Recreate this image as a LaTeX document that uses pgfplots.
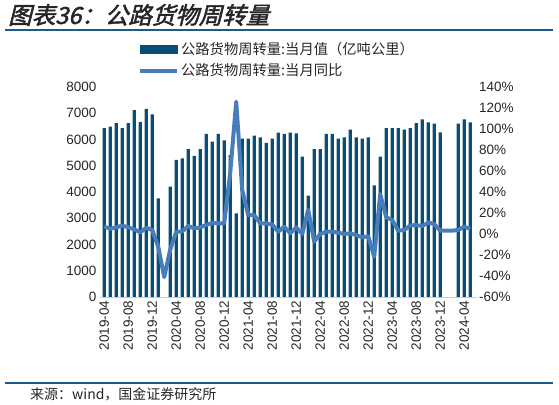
\documentclass[border=0pt]{standalone}
\usepackage{pgfplots}
\pgfplotsset{compat=1.18}
\usepackage{pgfplotstable}
\usepackage{fontspec}
\setmainfont{Liberation Sans}
\newfontfamily\cjk{Noto Sans CJK SC}
\newfontfamily\cjktitle[FakeSlant=0.25,FakeBold=2]{Noto Sans CJK SC}
\definecolor{barcol}{RGB}{10,78,120}
\definecolor{linecol}{RGB}{72,125,187}
\definecolor{rulecol}{RGB}{31,90,135}

\pgfplotstableread{
i val yoy
0 6430 7
1 6490 5
2 6620 6.3
3 6430 8
4 6620 6.3
5 7120 4.5
6 6670 1.5
7 7170 6
8 6960 3.8
9 3760 -12
10 nan -41
11 4200 -15
12 5220 2
13 5280 2.5
14 5630 7.6
15 5380 5.4
16 5630 6.3
17 6210 8.6
18 5920 10.5
19 6210 10.2
20 5970 10.2
21 5400 58
22 3190 126
23 6030 42
24 6030 18
25 6150 18
26 6080 10.2
27 5870 10
28 6030 9
29 6260 2.2
30 6210 7
31 6260 0.6
32 6235 6.3
33 5345 0
34 3860 23
35 5630 -7.3
36 5630 0
37 6210 2.2
38 6210 2.2
39 6030 1.3
40 6080 0
41 6375 0.6
42 6080 -1
43 6030 -3.2
44 6080 -2
45 4250 -21.6
46 5345 38
47 6430 16
48 6430 13.3
49 6430 3.2
50 6375 3.8
51 6430 8
52 6620 8.6
53 6770 7.6
54 6655 10.8
55 6600 9.5
56 6270 3.2
57 nan 3.2
58 nan 3.2
59 6600 3.8
60 6770 7
61 6655 4.8
}\data

\begin{document}
\begin{tikzpicture}[x=1pt,y=1pt]
\node[anchor=west, inner sep=0pt, font=\cjktitle\fontsize{23.5}{26}\selectfont, text=black!85] at (8,389) {图表36：公路货物周转量};
\draw[rulecol, line width=1.2pt] (5,374) -- (553,374);
\draw[rulecol, line width=1.2pt] (5,21) -- (553,21);
\node[anchor=west, inner sep=0pt, font=\cjk\fontsize{14}{16}\selectfont, text=black!85] at (30,10) {来源：wind，国金证券研究所};

\begin{axis}[
  at={(100pt,107pt)}, anchor=south west, scale only axis,
  width=375.6pt, height=210pt,
  xmin=-0.7, xmax=61.9, ymin=0, ymax=8000,
  axis x line*=bottom, axis y line*=left,
  x axis line style={draw=black!20, line width=0.8pt, -},
  y axis line style={draw=none},
  major tick length=0pt,
  xtick={0,4,...,60},
  xticklabels={2019-04,2019-08,2019-12,2020-04,2020-08,2020-12,2021-04,2021-08,2021-12,2022-04,2022-08,2022-12,2023-04,2023-08,2023-12,2024-04},
  x tick label style={rotate=90, anchor=east, font=\fontsize{13.5}{14}\selectfont, text=black!85},
  ytick={0,1000,...,8000},
  y tick label style={font=\fontsize{13.5}{14}\selectfont, text=black!85},
  /pgf/number format/assume math mode=true,
  /pgf/number format/1000 sep={},
  scaled y ticks=false,
  clip=false,
]
\addplot[ybar, bar width=3.3pt, fill=barcol, draw=none] table[x=i, y=val] {\data};
\end{axis}

\begin{axis}[
  at={(100pt,107pt)}, anchor=south west, scale only axis,
  width=375.6pt, height=210pt,
  xmin=-0.7, xmax=61.9, ymin=-60, ymax=140,
  axis x line=none, axis y line*=right,
  y axis line style={draw=none},
  major tick length=0pt,
  ytick={-60,-40,...,140},
  yticklabel={\pgfmathprintnumber{\tick}\%},
  y tick label style={font=\fontsize{13.5}{14}\selectfont, text=black!85},
  /pgf/number format/assume math mode=true,
  clip=false,
  legend style={at={(0.101,1.224)}, anchor=north west, draw=none, fill=none,
    font=\cjk\fontsize{14.3}{16}\selectfont, text=black!85, row sep=4pt, inner sep=0pt},
  legend cell align=left,
]
\addlegendimage{legend image code/.code={\fill[barcol] (0pt,-4pt) rectangle (37pt,4pt);}}
\addlegendentry{公路货物周转量:当月值（亿吨公里）}
\addlegendimage{legend image code/.code={\draw[linecol, line width=4pt] (0pt,0pt) -- (37pt,0pt);}}
\addlegendentry{公路货物周转量:当月同比}
\addplot[linecol, line width=4pt, line join=round, forget plot] table[x=i, y=yoy] {\data};
\end{axis}
\pgfresetboundingbox
\useasboundingbox (0,0) rectangle (559,404);
\end{tikzpicture}
\end{document}
